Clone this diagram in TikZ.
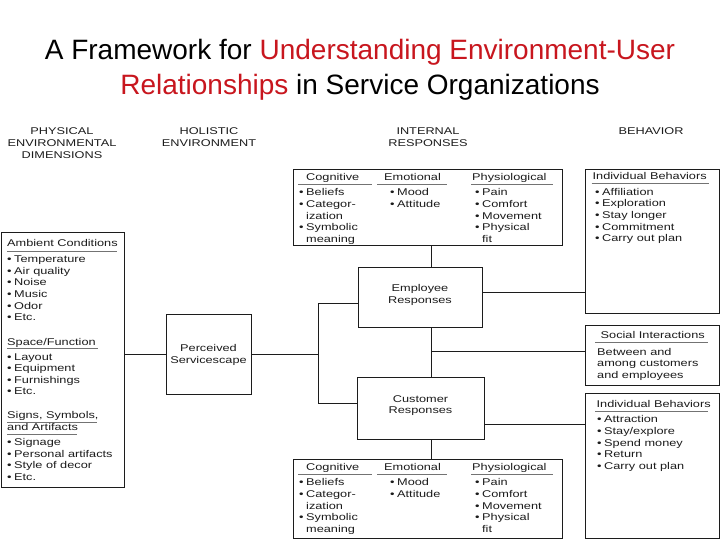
\documentclass[tikz,border=0pt]{standalone}
\usepackage{fontspec}
\setmainfont{Liberation Sans}
\newfontfamily\dfont[FakeStretch=1.3]{Liberation Sans}
\usetikzlibrary{fit}
\definecolor{tred}{RGB}{200,22,30}
\definecolor{ink}{RGB}{28,28,28}
\newcommand{\bl}{\makebox[7pt][l]{•}}
\newcommand{\bk}{\hspace*{7pt}}
\begin{document}
\begin{tikzpicture}[x=1pt,y=-1pt,
  box/.style={draw=ink, line width=0.9pt, inner sep=0pt, outer sep=0pt},
  txt/.style={anchor=base west, inner sep=0pt, text=ink, font=\dfont\fontsize{9.8}{11.65}\selectfont},
  hd/.style={anchor=base, inner sep=0pt, text=ink, font=\dfont\fontsize{9.8}{11.65}\selectfont},
  ctr/.style={align=center, inner sep=0pt, text=ink, font=\dfont\fontsize{9.8}{11.65}\selectfont},
  ttl/.style={anchor=base, inner sep=0pt, font=\fontsize{28}{33}\selectfont},
  ul/.style={draw=black!55, line width=0.8pt},
  wire/.style={draw=ink, line width=0.9pt},
]
\fill[white] (0,0) rectangle (720,540);
\useasboundingbox (0,0) rectangle (720,540);

% title
\node[ttl] (t1) at (360,60) {A Framework for \textcolor{tred}{Understanding Environment-User}};
\node[ttl] (t2) at (360,94.3) {\textcolor{tred}{Relationships} in Service Organizations};

% column headers
\node[hd] (h1a) at (62,135) {PHYSICAL};
\node[hd] (h1b) at (62,146.7) {ENVIRONMENTAL};
\node[hd] (h1c) at (62,158.4) {DIMENSIONS};
\node[hd] (h2a) at (209,135) {HOLISTIC};
\node[hd] (h2b) at (209,146.7) {ENVIRONMENT};
\node[hd] (h3a) at (428,135) {INTERNAL};
\node[hd] (h3b) at (428,146.7) {RESPONSES};
\node[hd] (h4a) at (651,135) {BEHAVIOR};

% boxes
\node[box, fit={(1,232) (124,487)}] (phys) {};
\node[box, fit={(166,314) (251,394)}] (perc) {};
\node[box, fit={(293,169) (562,245)}] (itop) {};
\node[box, fit={(358,267) (482,327)}] (emp) {};
\node[box, fit={(357,377) (484,439)}] (cust) {};
\node[box, fit={(293,459) (562,538)}] (ibot) {};
\node[box, fit={(585,169) (719,313)}] (btop) {};
\node[box, fit={(585,325) (719,385)}] (soc) {};
\node[box, fit={(585,393) (719,538)}] (bbot) {};

% centre box texts
\node[ctr] (perct) at (208.5,355) {Perceived\\Servicescape};
\node[ctr] (empt) at (420,295) {Employee\\Responses};
\node[ctr] (custt) at (420.5,405.5) {Customer\\Responses};

% physical dimensions
\node[txt] (amb) at (7,247) {Ambient Conditions};
\draw[ul] (7,251) -- (117,251);
\foreach \t [count=\i from 0] in {Temperature, Air quality, Noise, Music, Odor, Etc.}
  \node[txt] (amb\i) at (7,262.4+\i*11.65) {\bl\t};
\node[txt] (spf) at (7,345) {Space/Function};
\draw[ul] (7,348.5) -- (98,348.5);
\foreach \t [count=\i from 0] in {Layout, Equipment, Furnishings, Etc.}
  \node[txt] (spf\i) at (7,360+\i*11.65) {\bl\t};
\node[txt] (sgn) at (7,418.4) {Signs, Symbols,};
\draw[ul] (7,422.3) -- (97,422.3);
\node[txt] (sgnb) at (7,430.3) {and Artifacts};
\draw[ul] (7,434) -- (77,434);
\foreach \t [count=\i from 0] in {Signage, Personal artifacts, Style of decor, Etc.}
  \node[txt] (sgn\i) at (7,445.5+\i*11.65) {\bl\t};

% internal responses (top and bottom)
\foreach \p/\dy in {a/0, b/290}{
  \node[txt] (cog\p) at (306,180.4+\dy) {Cognitive};
  \draw[ul] (298,184+\dy) -- (372,184+\dy);
  \node[txt] (emo\p) at (384,180.4+\dy) {Emotional};
  \draw[ul] (377,184+\dy) -- (447,184+\dy);
  \node[txt] (phy\p) at (472,180.4+\dy) {Physiological};
  \draw[ul] (471,184+\dy) -- (553,184+\dy);
  \foreach \t [count=\i from 0] in {\bl Beliefs, \bl Categor-, \bk ization, \bl Symbolic, \bk meaning}
    \node[txt] (cog\p\i) at (299,195.7+\dy+\i*11.65) {\t};
  \foreach \t [count=\i from 0] in {\bl Mood, \bl Attitude}
    \node[txt] (emo\p\i) at (390,195.7+\dy+\i*11.65) {\t};
  \foreach \t [count=\i from 0] in {\bl Pain, \bl Comfort, \bl Movement, \bl Physical, \bk fit}
    \node[txt] (phy\p\i) at (475,195.7+\dy+\i*11.65) {\t};
}

% behaviour boxes
\node[txt] (ib1) at (592.5,180) {Individual Behaviors};
\draw[ul] (591.5,183.5) -- (709,183.5);
\foreach \t [count=\i from 0] in {Affiliation, Exploration, Stay longer, Commitment, Carry out plan}
  \node[txt] (ib1\i) at (595,195.1+\i*11.65) {\bl\t};
\node[txt] (si) at (600.5,338.5) {Social Interactions};
\draw[ul] (595,342) -- (708,342);
\foreach \t [count=\i from 0] in {Between and, among customers, and employees}
  \node[txt] (si\i) at (597,355+\i*11.65) {\t};
\node[txt] (ib2) at (596.5,407.7) {Individual Behaviors};
\draw[ul] (595,411) -- (708,411);
\foreach \t [count=\i from 0] in {Attraction, Stay/explore, Spend money, Return, Carry out plan}
  \node[txt] (ib2\i) at (597,422.7+\i*11.65) {\bl\t};

% connectors
\coordinate (busa) at (318,303);
\coordinate (busm) at (318,354);
\coordinate (busb) at (318,403);
\coordinate (vx) at (431,351);
\coordinate (ey) at (0,292);
\coordinate (cy) at (0,424);
\draw[wire] (perc.west) -- (perc.west -| phys.east);
\draw[wire] (perc.east) -- (busm);
\draw[wire] (busa -| emp.west) -- (busa) -- (busb) -- (busb -| cust.west);
\draw[wire] (vx |- itop.south) -- (vx |- emp.north);
\draw[wire] (vx |- emp.south) -- (vx |- cust.north);
\draw[wire] (vx) -- (vx -| soc.west);
\draw[wire] (vx |- cust.south) -- (vx |- ibot.north);
\draw[wire] (emp.east |- ey) -- (btop.west |- ey);
\draw[wire] (cust.east |- cy) -- (bbot.west |- cy);
\end{tikzpicture}
\end{document}
